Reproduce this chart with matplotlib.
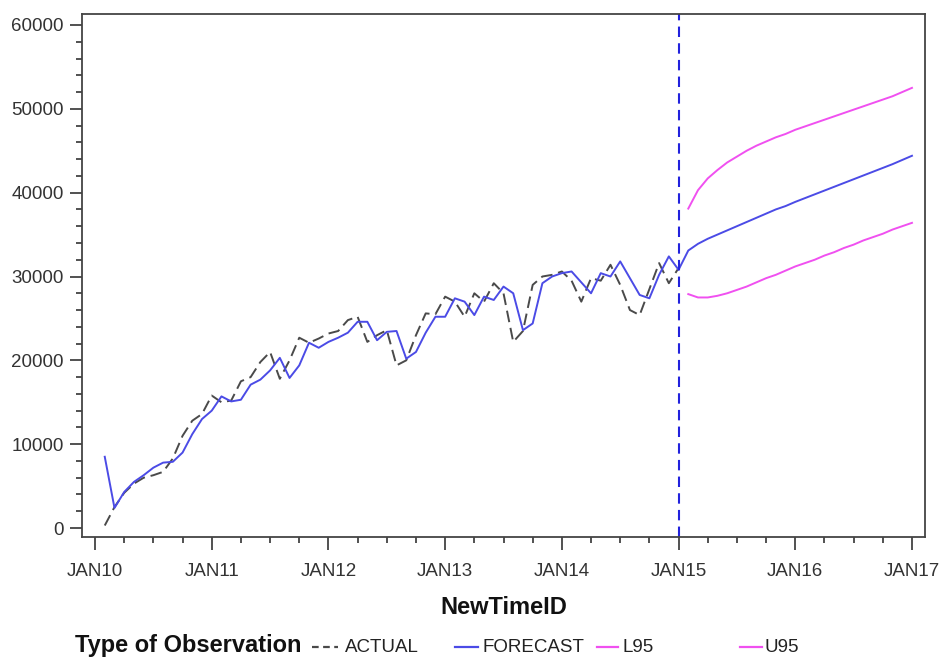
import numpy as np
import matplotlib
matplotlib.use("Agg")
import matplotlib.pyplot as plt
from matplotlib.lines import Line2D

# Monthly observations, Feb 2010 .. Jan 2015
actual = [
    300, 2500, 4200, 5300, 6000, 6300, 6700, 8300, 11000, 12800, 13600,
    15800, 15000, 15200, 17500, 18000, 19800, 21000, 17800, 20000, 22700, 22100, 22600,
    23200, 23500, 24800, 25200, 22200, 23000, 23600, 19400, 20000, 23000, 25600, 25500,
    27600, 27000, 25200, 28000, 27000, 29200, 28000, 22200, 23500, 29000, 30000, 30200,
    30600, 29500, 27000, 29800, 29500, 31400, 29000, 26000, 25400, 28500, 31600, 29200,
    31000,
]

# One-step-ahead fitted values over the same months, then the 24-month forecast
forecast_fit = [
    8500, 2400, 4300, 5500, 6300, 7200, 7800, 7900, 9000, 11200, 13000,
    14000, 15700, 15100, 15300, 17100, 17700, 18800, 20300, 17900, 19400, 22100, 21500,
    22200, 22700, 23300, 24600, 24600, 22400, 23400, 23500, 20200, 21000, 23300, 25200,
    25200, 27400, 27000, 25400, 27600, 27200, 28800, 28000, 23600, 24400, 29200, 30000,
    30400, 30600, 29300, 28000, 30400, 30000, 31800, 29800, 27800, 27400, 30200, 32400,
    30800,
]
forecast_ahead = [
    33100, 33900, 34500, 35000, 35500, 36000, 36500, 37000, 37500, 38000, 38400, 38900,
    39350, 39800, 40250, 40700, 41150, 41600, 42050, 42500, 42950, 43400, 43900, 44400,
]
l95 = [
    27900, 27500, 27500, 27700, 28000, 28400, 28800, 29300, 29800, 30200, 30700, 31200,
    31600, 32000, 32500, 32900, 33400, 33800, 34300, 34700, 35100, 35600, 36000, 36400,
]
u95 = [
    38100, 40300, 41700, 42700, 43600, 44300, 45000, 45600, 46100, 46600, 47000, 47500,
    47900, 48300, 48700, 49100, 49500, 49900, 50300, 50700, 51100, 51500, 52000, 52500,
]

tick_labels = ["JAN10", "JAN11", "JAN12", "JAN13", "JAN14", "JAN15", "JAN16", "JAN17"]
legend_labels = ["ACTUAL", "FORECAST", "L95", "U95"]

# month index: 0 = Jan 2010
t_hist = np.arange(1, 1 + len(actual))
t_all = np.arange(1, 1 + len(forecast_fit) + len(forecast_ahead))
t_fut = np.arange(1 + len(forecast_fit), 1 + len(forecast_fit) + len(forecast_ahead))
forecast = forecast_fit + forecast_ahead
split_month = 60

C_ACT = "#4a4a4a"
C_FC = "#4b4be6"
C_CI = "#f050f0"
C_REF = "#2222dd"

FONT = "Liberation Sans"

W, H = 941, 657
fig = plt.figure(figsize=(W / 100, H / 100), dpi=100)
ax = fig.add_axes([82 / W, 1 - 537 / H, (925 - 82) / W, (537 - 14) / H])

ax.plot(t_hist, actual, color=C_ACT, lw=1.4, dashes=(6, 3))
ax.plot(t_all, forecast, color=C_FC, lw=1.4)
ax.plot(t_fut, l95, color=C_CI, lw=1.4)
ax.plot(t_fut, u95, color=C_CI, lw=1.4)
ax.axvline(split_month, color=C_REF, lw=1.5, dashes=(5, 3))

ax.set_xlim(-1.34, 85.34)
ax.set_ylim(-1070, 61310)

ax.set_xticks(np.arange(0, 85, 12))
ax.set_xticklabels(tick_labels)
ax.set_xticks(np.arange(0, 85, 3), minor=True)
ax.set_yticks(np.arange(0, 60001, 10000))
ax.set_yticks(np.arange(0, 60001, 2000), minor=True)

for lab in ax.get_xticklabels():
    lab.set_fontfamily(FONT)
    lab.set_fontsize(13.5)
    lab.set_color("#333333")
for lab in ax.get_yticklabels():
    lab.set_fontfamily(FONT)
    lab.set_fontsize(13.5)
    lab.set_color("#333333")

ax.tick_params(axis="both", which="major", direction="out", length=9, width=1.2,
               color="#333333")
ax.tick_params(axis="both", which="minor", direction="out", length=4.5, width=1.2,
               color="#333333")
ax.tick_params(axis="x", which="major", pad=10)
ax.tick_params(axis="y", which="major", pad=4)

for sp in ax.spines.values():
    sp.set_color("#444444")
    sp.set_linewidth(1.3)

ax.set_xlabel("NewTimeID", fontfamily=FONT, fontweight="bold",
              fontsize=17, labelpad=11, color="#111111")

# legend row along the bottom edge
y_txt = 1 - 652 / H
y_line = 1 - 647 / H
fig.text(75 / W, y_txt, "Type of Observation", family=FONT, fontweight="bold",
         fontsize=17, color="#111111", va="baseline")
entries = [
    (312, 338, 345, C_ACT, (3, 2)),
    (455, 478, 483, C_FC, None),
    (597, 618, 622, C_CI, None),
    (740, 762, 765, C_CI, None),
]
for (x0, x1, xt, col, dash), lab in zip(entries, legend_labels):
    ln = Line2D([x0 / W, x1 / W], [y_line, y_line], transform=fig.transFigure,
                color=col, lw=1.6)
    if dash:
        ln.set_dashes(dash)
    fig.lines.append(ln)
    fig.text(xt / W, y_txt, lab, family=FONT, fontsize=13.5, color="#222222",
             va="baseline")

fig.savefig("out.png", dpi=100, facecolor="white")
